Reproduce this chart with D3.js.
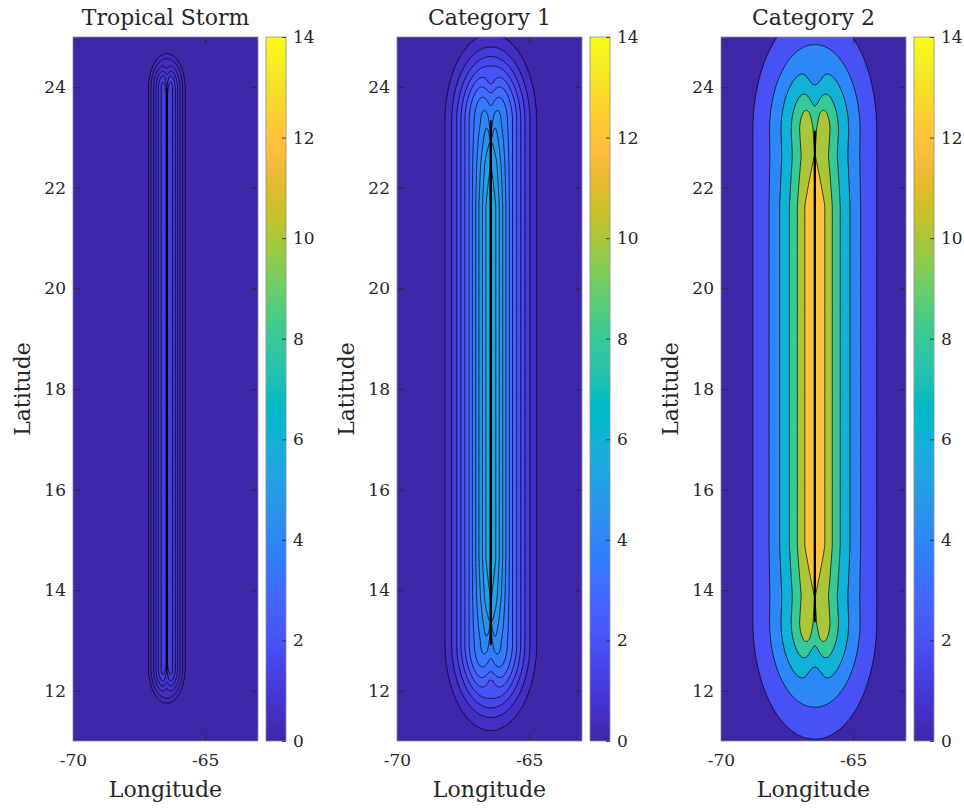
<!DOCTYPE html>
<html>
<head>
<meta charset="utf-8">
<script src="https://cdn.jsdelivr.net/npm/d3@7"></script>
<style>
  body { margin: 0; background: #fff; }
  svg { display: block; font-family: "DejaVu Serif", "Liberation Serif", serif; }
  .tick text { fill: #262626; }
</style>
</head>
<body>
<svg id="chart"></svg>
<script>
// panel text and ticks
const panelTitles = ['Tropical Storm', 'Category 1', 'Category 2'];
const lonTicks = [-70, -65];
const latTicks = [12, 14, 16, 18, 20, 22, 24];
const barTicks = [0, 2, 4, 6, 8, 10, 12, 14];
const lonRange = [-70, -63];
const latRange = [11, 25];
const barRange = [0, 14];
const trackLon = -66.45;

// Tropical Storm: contour levels, cross-track profile, track ends, along-track factor
const tsLevels = [0.2, 0.4, 0.6, 0.8, 1.0, 1.2];
const tsDist = [0, 0.22, 0.32, 0.41, 0.50, 0.60, 0.69, 0.85, 1.2];
const tsWind = [1.35, 1.2, 1.0, 0.8, 0.6, 0.4, 0.2, 0.06, 0];
const tsTrack = [12.45, 23.97];
const tsTaperDist = [0, 1];
const tsTaper = [1, 1];

// Category 1
const c1Levels = [0.5, 1, 1.5, 2, 2.5, 3, 3.5, 4, 4.5, 5, 5.5];
const c1Dist = [0, 0.19, 0.32, 0.45, 0.57, 0.70, 0.82, 0.98, 1.13, 1.29, 1.48, 1.73, 2.2, 3.0];
const c1Wind = [5.95, 5.5, 5.0, 4.5, 4.0, 3.5, 3.0, 2.5, 2.0, 1.5, 1.0, 0.5, 0.2, 0.05];
const c1Track = [12.95, 23.32];
const c1TaperDist = [0, 0.37, 0.9, 1.7];
const c1Taper = [0.515, 0.665, 0.85, 1];

// Category 2
const c2Levels = [2, 4, 6, 8, 10, 12];
const c2Dist = [0, 0.38, 0.66, 0.96, 1.33, 1.73, 2.34, 3.0, 4.0];
const c2Wind = [13.4, 12, 10, 8, 6, 4, 2, 0.9, 0.3];
const c2Track = [13.38, 23.14];
const c2TaperDist = [0, 0.5, 1.5];
const c2Taper = [0.92, 0.87, 1];

// parula colormap
const parulaColors = [
  [0.2422,0.1504,0.6603],[0.2504,0.1650,0.7076],[0.2578,0.1818,0.7511],[0.2647,0.1978,0.7952],
  [0.2706,0.2147,0.8364],[0.2751,0.2342,0.8710],[0.2783,0.2559,0.8991],[0.2803,0.2782,0.9221],
  [0.2813,0.3006,0.9414],[0.2810,0.3228,0.9579],[0.2795,0.3447,0.9717],[0.2760,0.3667,0.9829],
  [0.2699,0.3892,0.9906],[0.2602,0.4123,0.9952],[0.2440,0.4358,0.9988],[0.2206,0.4603,0.9973],
  [0.1963,0.4847,0.9892],[0.1834,0.5074,0.9798],[0.1786,0.5289,0.9682],[0.1764,0.5499,0.9520],
  [0.1687,0.5703,0.9359],[0.1540,0.5902,0.9218],[0.1460,0.6091,0.9079],[0.1380,0.6276,0.8973],
  [0.1248,0.6459,0.8883],[0.1113,0.6635,0.8763],[0.0952,0.6798,0.8598],[0.0689,0.6948,0.8394],
  [0.0297,0.7082,0.8163],[0.0036,0.7203,0.7917],[0.0067,0.7312,0.7660],[0.0433,0.7411,0.7394],
  [0.0964,0.7500,0.7120],[0.1408,0.7584,0.6842],[0.1717,0.7670,0.6554],[0.1938,0.7758,0.6251],
  [0.2161,0.7843,0.5923],[0.2470,0.7918,0.5567],[0.2906,0.7973,0.5188],[0.3406,0.8008,0.4789],
  [0.3909,0.8029,0.4354],[0.4456,0.8024,0.3909],[0.5044,0.7993,0.3480],[0.5616,0.7942,0.3045],
  [0.6174,0.7876,0.2612],[0.6720,0.7793,0.2227],[0.7242,0.7698,0.1910],[0.7738,0.7598,0.1646],
  [0.8203,0.7498,0.1535],[0.8634,0.7406,0.1596],[0.9035,0.7330,0.1774],[0.9393,0.7288,0.2100],
  [0.9728,0.7298,0.2394],[0.9956,0.7434,0.2371],[0.9970,0.7659,0.2199],[0.9952,0.7893,0.2028],
  [0.9892,0.8136,0.1885],[0.9786,0.8386,0.1766],[0.9676,0.8639,0.1643],[0.9610,0.8890,0.1537],
  [0.9597,0.9135,0.1423],[0.9628,0.9373,0.1265],[0.9691,0.9606,0.1064],[0.9769,0.9839,0.0805]
].map(c => d3.rgb(c[0] * 255, c[1] * 255, c[2] * 255).formatHex());

const panels = [
  {levels: tsLevels, dist: tsDist, wind: tsWind, track: tsTrack, taperDist: tsTaperDist, taper: tsTaper, base: 99, apex: 0.18},
  {levels: c1Levels, dist: c1Dist, wind: c1Wind, track: c1Track, taperDist: c1TaperDist, taper: c1Taper, base: 3.21, apex: 0.5},
  {levels: c2Levels, dist: c2Dist, wind: c2Wind, track: c2Track, taperDist: c2TaperDist, taper: c2Taper, base: 3, apex: 0.5}
];

// grid + end-notch settings
const stepX = 0.025, stepY = 0.05;
const nx = Math.round((lonRange[1] - lonRange[0]) / stepX) + 1;
const ny = Math.round((latRange[1] - latRange[0]) / stepY) + 1;
const centerCol = Math.round((trackLon - lonRange[0]) / stepX);
const betaShare = [0, 0.3, 0.42, 0.55, 1];
const betaDepth = [0, 0, 0.1, 0.25, 0.25];
const notchAngle = 0.25;
const eyeShare = 0.1;

const W = 964, H = 810;
const margin = {left: 73, top: 37};
const plotW = 185, plotH = 704, panelGap = 324;
const barGap = 8, barW = 20;
const ink = '#262626';

const color = d3.scaleLinear()
  .domain(parulaColors.map((c, i) => barRange[0] + (barRange[1] - barRange[0]) * i / (parulaColors.length - 1)))
  .range(parulaColors);

function makeField(p) {
  const prof = d3.scaleLinear().domain(p.dist).range(p.wind).clamp(true);
  const taper = d3.scaleLinear().domain(p.taperDist).range(p.taper).clamp(true);
  const beta = d3.scaleLinear().domain(betaShare).range(betaDepth).clamp(true);
  const vmax = p.wind[0];
  const [s, e] = p.track;
  const mid = (s + e) / 2;
  const values = new Float64Array(nx * ny);
  for (let j = 0; j < ny; j++) {
    const lat = latRange[0] + j * stepY;
    const top = lat >= mid;
    const out = top ? Math.max(0, lat - e) : Math.max(0, s - lat);
    const inside = top ? Math.max(0, e - lat) : Math.max(0, lat - s);
    const apex = top ? lat - (e - p.apex) : (s + p.apex) - lat;
    for (let i = 0; i < nx; i++) {
      const adx = Math.abs(i - centerCol) * stepX;
      let v;
      if (i === centerCol && out === 0) {
        v = eyeShare * vmax;
      } else {
        v = prof(Math.hypot(adx, out));
        if (apex > 0) {
          const phi = Math.atan2(adx, apex);
          v *= 1 - beta(v / vmax) * Math.exp(-Math.pow(phi / notchAngle, 2));
        }
        if (v > p.base) v = p.base + (v - p.base) * taper(inside);
      }
      values[j * nx + i] = v;
    }
  }
  return values;
}

const svg = d3.select('#chart').attr('width', W).attr('height', H);
svg.append('rect').attr('width', W).attr('height', H).attr('fill', '#fff');

const defs = svg.append('defs');
const grad = defs.append('linearGradient').attr('id', 'parula')
  .attr('x1', 0).attr('y1', 1).attr('x2', 0).attr('y2', 0);
parulaColors.forEach((c, i) => {
  grad.append('stop').attr('offset', i / (parulaColors.length - 1)).attr('stop-color', c);
});

panels.forEach((p, k) => {
  const left = margin.left + k * panelGap;
  const x = d3.scaleLinear().domain(lonRange).range([left, left + plotW]);
  const y = d3.scaleLinear().domain(latRange).range([margin.top + plotH, margin.top]);

  defs.append('clipPath').attr('id', 'clip' + k)
    .append('rect').attr('x', left).attr('y', margin.top).attr('width', plotW).attr('height', plotH);

  const values = makeField(p);
  const bands = d3.contours().size([nx, ny]).thresholds(p.levels)(values);
  const proj = d3.geoTransform({
    point(gx, gy) {
      this.stream.point(x(lonRange[0] + (gx - 0.5) * stepX), y(latRange[0] + (gy - 0.5) * stepY));
    }
  });
  const path = d3.geoPath(proj);

  const g = svg.append('g').attr('clip-path', `url(#clip${k})`);
  g.append('rect')
    .attr('x', left).attr('y', margin.top).attr('width', plotW).attr('height', plotH)
    .attr('fill', color(0));
  g.selectAll('path.band')
    .data(bands)
    .enter()
    .append('path')
    .attr('class', 'band')
    .attr('d', path)
    .attr('fill', d => color(d.value));
  g.selectAll('path.line')
    .data(bands)
    .enter()
    .append('path')
    .attr('class', 'line')
    .attr('d', path)
    .attr('fill', 'none')
    .attr('stroke', '#000')
    .attr('stroke-width', 0.7);

  // axes, ticks inside
  const bottom = svg.append('g').attr('transform', `translate(0, ${margin.top + plotH})`)
    .call(d3.axisBottom(x).tickValues(lonTicks).tickSize(-7).tickPadding(13).tickFormat(d => String(d)));
  const topAx = svg.append('g').attr('transform', `translate(0, ${margin.top})`)
    .call(d3.axisTop(x).tickValues(lonTicks).tickSize(-7).tickFormat(''));
  const leftAx = svg.append('g').attr('transform', `translate(${left}, 0)`)
    .call(d3.axisLeft(y).tickValues(latTicks).tickSize(-7).tickPadding(7).tickFormat(d => String(d)));
  const rightAx = svg.append('g').attr('transform', `translate(${left + plotW}, 0)`)
    .call(d3.axisRight(y).tickValues(latTicks).tickSize(-7).tickFormat(''));
  [bottom, topAx, leftAx, rightAx].forEach(a => {
    a.select('.domain').remove();
    a.selectAll('.tick line').attr('stroke', ink).attr('stroke-width', 0.8);
    a.selectAll('.tick text').style('font-size', '17px').style('font-family', '"DejaVu Serif", serif');
  });

  svg.append('rect')
    .attr('x', left).attr('y', margin.top).attr('width', plotW).attr('height', plotH)
    .attr('fill', 'none').attr('stroke', '#8c8c8c').attr('stroke-width', 0.8);

  // colorbar
  const barLeft = left + plotW + barGap;
  const cy = d3.scaleLinear().domain(barRange).range([margin.top + plotH, margin.top]);
  svg.append('rect')
    .attr('x', barLeft).attr('y', margin.top).attr('width', barW).attr('height', plotH)
    .attr('fill', 'url(#parula)').attr('stroke', '#8c8c8c').attr('stroke-width', 0.8);
  const barAx = svg.append('g').attr('transform', `translate(${barLeft + barW}, 0)`)
    .call(d3.axisRight(cy).tickValues(barTicks).tickSize(-4).tickPadding(7).tickFormat(d => String(d)));
  barAx.select('.domain').remove();
  barAx.selectAll('.tick line').attr('stroke', ink).attr('stroke-width', 0.8);
  barAx.selectAll('.tick text').style('font-size', '17px').style('font-family', '"DejaVu Serif", serif');

  // titles and labels
  svg.append('text')
    .attr('x', left + plotW / 2).attr('y', 25)
    .attr('text-anchor', 'middle').attr('fill', ink).style('font-size', '22px')
    .text(panelTitles[k]);
  svg.append('text')
    .attr('x', left + plotW / 2).attr('y', 797)
    .attr('text-anchor', 'middle').attr('fill', ink).style('font-size', '22px')
    .text('Longitude');
  svg.append('text')
    .attr('transform', `translate(${left - 43}, ${margin.top + plotH / 2}) rotate(-90)`)
    .attr('text-anchor', 'middle').attr('fill', ink).style('font-size', '22px')
    .text('Latitude');
});
</script>
</body>
</html>
